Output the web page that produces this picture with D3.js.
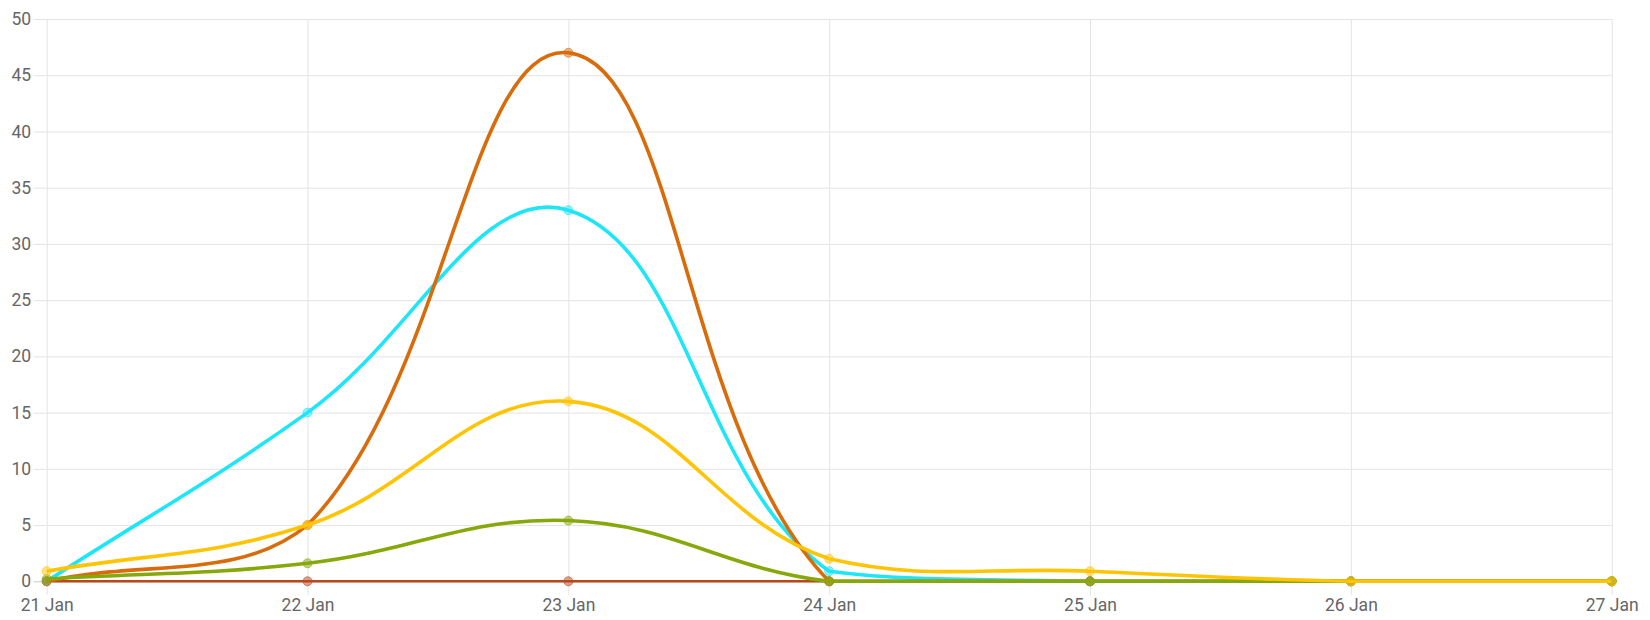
<!DOCTYPE html>
<html>
<head>
<meta charset="utf-8">
<script src="https://cdn.jsdelivr.net/npm/d3@7"></script>
<style>
  html, body { margin: 0; padding: 0; background: #fff; }
  svg { display: block; }
</style>
</head>
<body>
<svg id="chart" width="1650" height="620"></svg>
<script>
// ---- data ----
const dates = ["21 Jan", "22 Jan", "23 Jan", "24 Jan", "25 Jan", "26 Jan", "27 Jan"];
const yTicks = [0, 5, 10, 15, 20, 25, 30, 35, 40, 45, 50];
const redVals    = [0, 0, 0, 0, 0, 0, 0];
const greenVals  = [0.2, 1.6, 5.4, 0, 0, 0, 0];
const cyanVals   = [0, 15, 33, 0.9, 0, 0, 0];
const orangeVals = [0, 5, 47, 0, 0, 0, 0];
const yellowVals = [0.9, 5, 16, 2, 0.9, 0, 0];

// draw order: first = bottom
const series = [
  { name: "red",    values: redVals,    color: "#b9471c", width: 2.4 },
  { name: "cyan",   values: cyanVals,   color: "#1de6f8", width: 3.6 },
  { name: "orange", values: orangeVals, color: "#d86c0a", width: 3.6 },
  { name: "green",  values: greenVals,  color: "#86a80b", width: 3.6 },
  { name: "yellow", values: yellowVals, color: "#ffc404", width: 3.6 }
];

const W = 1650, H = 620;
const margin = { left: 46.7, right: 38.3, top: 19, bottom: 38.7 };
const svg = d3.select("#chart");
const pLeft = margin.left, pRight = W - margin.right, pTop = margin.top, pBottom = H - margin.bottom;

const x = d3.scalePoint().domain(dates).range([pLeft, pRight]);
const y = d3.scaleLinear().domain([0, 50]).range([pBottom, pTop]);

// grid
const grid = svg.append("g");
grid.selectAll("line.h").data(yTicks).join("line")
  .attr("x1", pLeft - 13).attr("x2", pRight)
  .attr("y1", d => y(d) + 0.5).attr("y2", d => y(d) + 0.5)
  .attr("stroke", d => d === 0 ? "#c8c8c8" : "#e4e4e4").attr("stroke-width", 1);
grid.selectAll("line.v").data(dates).join("line")
  .attr("x1", d => x(d) + 0.5).attr("x2", d => x(d) + 0.5)
  .attr("y1", pTop).attr("y2", pBottom + 14)
  .attr("stroke", "#e4e4e4").attr("stroke-width", 1);

// axes labels
const yAxis = d3.axisLeft(y).tickValues(yTicks).tickSize(0).tickPadding(15.5);
const gy = svg.append("g").attr("transform", `translate(${pLeft},0)`).call(yAxis);
gy.select(".domain").remove();
gy.selectAll("text").attr("fill", "#666").style("font-family", "Roboto, Arial, sans-serif").style("font-size", "17.5px");

const xAxis = d3.axisBottom(x).tickSize(0).tickPadding(17);
const gx = svg.append("g").attr("transform", `translate(0,${pBottom})`).call(xAxis);
gx.select(".domain").remove();
gx.selectAll("text").attr("fill", "#666").style("font-family", "Roboto, Arial, sans-serif").style("font-size", "17.5px");

// Chart.js-like spline (tension 0.4) with control points capped to chart area
function splinePath(pts, t) {
  const n = pts.length;
  const cap = p => ({ x: Math.max(pLeft, Math.min(pRight, p.x)), y: Math.max(pTop, Math.min(pBottom, p.y)) });
  const cps = pts.map((cur, i) => {
    const prev = i > 0 ? pts[i - 1] : cur;
    const next = i < n - 1 ? pts[i + 1] : cur;
    const d01 = Math.hypot(cur.x - prev.x, cur.y - prev.y);
    const d12 = Math.hypot(next.x - cur.x, next.y - cur.y);
    let s01 = d01 / (d01 + d12), s12 = d12 / (d01 + d12);
    if (isNaN(s01)) s01 = 0;
    if (isNaN(s12)) s12 = 0;
    const fa = t * s01, fb = t * s12;
    return {
      p: cap({ x: cur.x - fa * (next.x - prev.x), y: cur.y - fa * (next.y - prev.y) }),
      n: cap({ x: cur.x + fb * (next.x - prev.x), y: cur.y + fb * (next.y - prev.y) })
    };
  });
  const path = d3.path();
  path.moveTo(pts[0].x, pts[0].y);
  for (let i = 1; i < n; i++) {
    path.bezierCurveTo(cps[i - 1].n.x, cps[i - 1].n.y, cps[i].p.x, cps[i].p.y, pts[i].x, pts[i].y);
  }
  return path.toString();
}

const plot = svg.append("g");
series.forEach(s => {
  const pts = s.values.map((v, i) => ({ x: x(dates[i]), y: y(v) }));
  const g = plot.append("g");
  g.append("path")
    .attr("d", splinePath(pts, 0.4))
    .attr("fill", "none")
    .attr("stroke", s.color)
    .attr("stroke-width", s.width)
    .attr("stroke-linejoin", "round");
  g.selectAll("circle").data(pts).join("circle")
    .attr("cx", d => d.x).attr("cy", d => d.y).attr("r", 4.5)
    .attr("fill", s.color).attr("fill-opacity", 0.5)
    .attr("stroke", s.color).attr("stroke-opacity", 0.6).attr("stroke-width", 1);
});
</script>
</body>
</html>
